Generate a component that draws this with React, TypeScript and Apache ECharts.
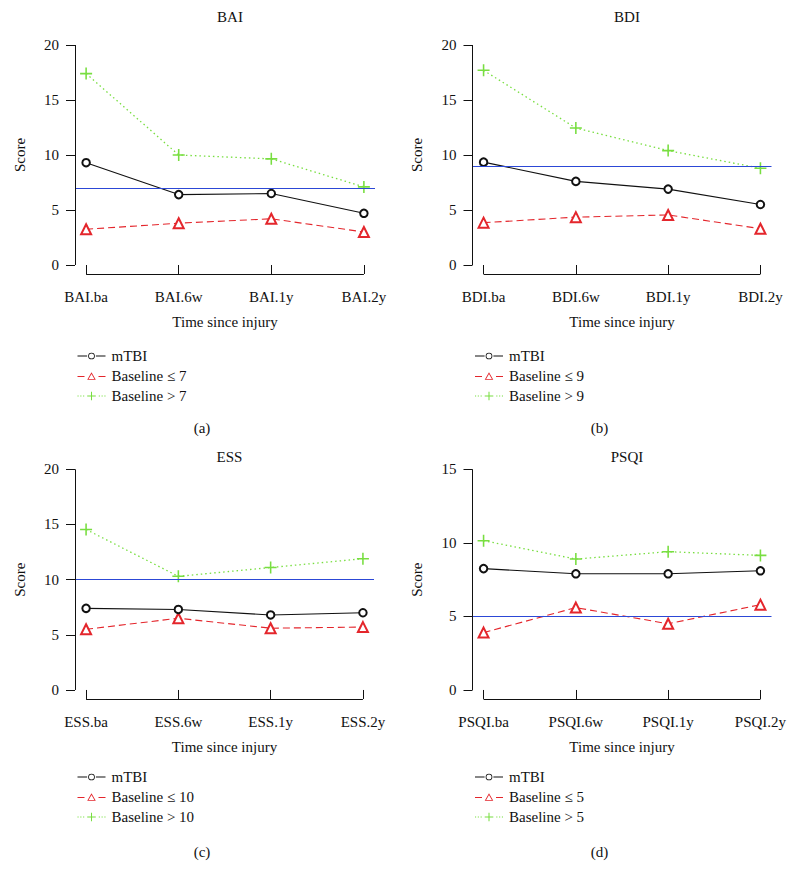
import React, { useEffect, useRef } from 'react';
import * as echarts from 'echarts';

// ---- Data ----
const baiCategories = ['BAI.ba', 'BAI.6w', 'BAI.1y', 'BAI.2y'];
const bdiCategories = ['BDI.ba', 'BDI.6w', 'BDI.1y', 'BDI.2y'];
const essCategories = ['ESS.ba', 'ESS.6w', 'ESS.1y', 'ESS.2y'];
const psqiCategories = ['PSQI.ba', 'PSQI.6w', 'PSQI.1y', 'PSQI.2y'];

const baiMtbi = [9.3, 6.4, 6.5, 4.7];
const baiLow = [3.25, 3.8, 4.2, 3.0];
const baiHigh = [17.4, 10.0, 9.65, 7.1];
const baiCut = 7;

const bdiMtbi = [9.35, 7.6, 6.9, 5.5];
const bdiLow = [3.85, 4.35, 4.55, 3.3];
const bdiHigh = [17.7, 12.45, 10.4, 8.8];
const bdiCut = 9;

const essMtbi = [7.4, 7.3, 6.8, 7.0];
const essLow = [5.5, 6.5, 5.6, 5.7];
const essHigh = [14.55, 10.3, 11.1, 11.9];
const essCut = 10;

const psqiMtbi = [8.25, 7.9, 7.9, 8.1];
const psqiLow = [3.9, 5.6, 4.5, 5.8];
const psqiHigh = [10.15, 8.9, 9.4, 9.15];
const psqiCut = 5;

const yTicks20 = [0, 5, 10, 15, 20];
const yTicks15 = [0, 5, 10, 15];
const xTicks = [1, 2, 3, 4];

const titles = ['BAI', 'BDI', 'ESS', 'PSQI'];
const panelLabels = ['(a)', '(b)', '(c)', '(d)'];
const xAxisTitle = 'Time since injury';
const yAxisTitle = 'Score';

// ---- Styles ----
const FONT = 'Liberation Serif';
const BLACK = '#111111';
const RED = '#E4262C';
const GREEN = '#78DE40';
const BLUE = '#2C48D6';
const PLUS = 'path://M4.35,0H5.65V4.35H10V5.65H5.65V10H4.35V5.65H0V4.35H4.35Z';

// legend icons (line segments + marker, like R's legend)
const ICON_MTBI =
  'path://M0,3.15H10.3V4.05H0Z M19.7,3.15H30V4.05H19.7Z ' +
  'M11.4,3.6A3.6,3.6 0 1,0 18.6,3.6A3.6,3.6 0 1,0 11.4,3.6Z ' +
  'M12.3,3.6A2.7,2.7 0 1,1 17.7,3.6A2.7,2.7 0 1,1 12.3,3.6Z';
const ICON_LOW =
  'path://M0,4.0H7.5V5.0H0Z M22.5,4.0H30V5.0H22.5Z ' +
  'M15,0L19.6,8H10.4Z M15,1.9L11.95,7.1H18.05Z';
const ICON_HIGH =
  'path://M0,4H1.2V5H0Z M3,4H4.2V5H3Z M6,4H7.2V5H6Z M22.8,4H24V5H22.8Z M25.8,4H27V5H25.8Z M28.8,4H30V5H28.8Z ' +
  'M14.45,0H15.55V3.95H19.6V5.05H15.55V9H14.45V5.05H10.4V3.95H14.45Z';

const panels = [
  { cats: baiCategories, mtbi: baiMtbi, low: baiLow, high: baiHigh, cut: baiCut, ticks: yTicks20,
    left: 75, top: 36.2, width: 300, height: 237.6, legendTop: 347, labelTop: 415, titleTop: 4 },
  { cats: bdiCategories, mtbi: bdiMtbi, low: bdiLow, high: bdiHigh, cut: bdiCut, ticks: yTicks20,
    left: 472.5, top: 36.2, width: 299, height: 237.6, legendTop: 347, labelTop: 415, titleTop: 4 },
  { cats: essCategories, mtbi: essMtbi, low: essLow, high: essHigh, cut: essCut, ticks: yTicks20,
    left: 75, top: 460.5, width: 299, height: 238.3, legendTop: 768, labelTop: 839, titleTop: 444 },
  { cats: psqiCategories, mtbi: psqiMtbi, low: psqiLow, high: psqiHigh, cut: psqiCut, ticks: yTicks15,
    left: 472.5, top: 460.5, width: 299, height: 238.3, legendTop: 768, labelTop: 839, titleTop: 444 },
];

const textBase = { fontFamily: FONT, fontSize: 15, color: BLACK, fontWeight: 'normal' as const };

function buildOption() {
  const grid: any[] = [];
  const xAxis: any[] = [];
  const yAxis: any[] = [];
  const series: any[] = [];
  const legend: any[] = [];
  const title: any[] = [];

  panels.forEach((p, i) => {
    const yMaxTick = p.ticks[p.ticks.length - 1];
    const yPad = yMaxTick * 0.04;
    const yMin = -yPad;
    const yMax = yMaxTick + yPad;
    const xMin = 1 - 0.12;
    const xMax = 4 + 0.12;
    const lowName = `Baseline ≤ ${p.cut}`;
    const highName = `Baseline > ${p.cut}`;

    grid.push({ left: p.left, top: p.top, width: p.width, height: p.height, containLabel: false });

    xAxis.push({
      type: 'value', gridIndex: i, min: xMin, max: xMax,
      name: xAxisTitle, nameLocation: 'middle', nameGap: 41,
      nameTextStyle: { ...textBase },
      axisLine: { show: false },
      axisTick: { show: true, customValues: xTicks, length: 9, lineStyle: { color: BLACK, width: 1 } },
      axisLabel: { customValues: xTicks, margin: 16, ...textBase,
        formatter: (v: number) => p.cats[Math.round(v) - 1] ?? '' },
      splitLine: { show: false },
    });

    yAxis.push({
      type: 'value', gridIndex: i, min: yMin, max: yMax,
      name: yAxisTitle, nameLocation: 'middle', nameGap: 48, nameRotate: 90,
      nameTextStyle: { ...textBase },
      axisLine: { show: false },
      axisTick: { show: true, customValues: p.ticks, length: 9, lineStyle: { color: BLACK, width: 1 } },
      axisLabel: { customValues: p.ticks, margin: 16, ...textBase },
      splitLine: { show: false },
    });

    const axisLine = { color: BLACK, width: 1, type: 'solid' };

    series.push({
      type: 'line', name: 'mTBI', xAxisIndex: i, yAxisIndex: i, clip: false,
      data: p.mtbi.map((v, k) => [xTicks[k], v]),
      symbol: 'emptyCircle', symbolSize: 7.5,
      itemStyle: { color: BLACK, borderColor: BLACK, borderWidth: 1 },
      lineStyle: { color: BLACK, width: 1.1, type: 'solid' },
      z: 4,
      markLine: {
        silent: true, symbol: ['none', 'none'], label: { show: false }, animation: false,
        emphasis: { disabled: true },
        data: [
          { yAxis: p.cut, lineStyle: { color: BLUE, width: 1.2, type: 'solid' } },
          [{ coord: [xTicks[0], yMin], lineStyle: axisLine }, { coord: [xTicks[3], yMin] }],
          [{ coord: [xMin, p.ticks[0]], lineStyle: axisLine }, { coord: [xMin, yMaxTick] }],
        ],
      },
    });
    series.push({
      type: 'line', name: lowName, xAxisIndex: i, yAxisIndex: i, clip: false,
      data: p.low.map((v, k) => [xTicks[k], v]),
      symbol: 'emptyTriangle', symbolSize: 10,
      itemStyle: { color: RED, borderColor: RED, borderWidth: 1 },
      lineStyle: { color: RED, width: 1.1, type: [7, 4] },
      z: 3,
    });
    series.push({
      type: 'line', name: highName, xAxisIndex: i, yAxisIndex: i, clip: false,
      data: p.high.map((v, k) => [xTicks[k], v]),
      symbol: PLUS, symbolSize: 12,
      itemStyle: { color: GREEN },
      lineStyle: { color: GREEN, width: 1.3, type: [1.5, 3] },
      z: 3,
    });

    legend.push({
      orient: 'vertical', left: p.left - 2.5, top: p.legendTop - 4,
      data: [
        { name: 'mTBI', icon: ICON_MTBI, itemStyle: { color: BLACK, borderWidth: 0 } },
        { name: lowName, icon: ICON_LOW, itemStyle: { color: RED, borderWidth: 0 } },
        { name: highName, icon: ICON_HIGH, itemStyle: { color: GREEN, borderWidth: 0 } },
      ],
      itemWidth: 28, itemHeight: 9, itemGap: 4,
      symbolKeepAspect: true,
      selectedMode: false,
      textStyle: { ...textBase, lineHeight: 16, padding: [0, 0, 0, 1] },
    });

    const cx = p.left + p.width / 2;
    title.push({
      text: titles[i], left: cx, top: p.titleTop, textAlign: 'center',
      textStyle: { ...textBase },
    });
    title.push({
      text: panelLabels[i], left: p.left + 122, top: p.labelTop, textAlign: 'center',
      textStyle: { ...textBase },
    });
  });

  return {
    animation: false,
    backgroundColor: '#ffffff',
    textStyle: { fontFamily: FONT },
    grid, xAxis, yAxis, series, legend, title,
  };
}

export default function App() {
  const ref = useRef<HTMLDivElement>(null);
  useEffect(() => {
    document.body.style.margin = '0';
    if (!ref.current) return;
    const chart = echarts.init(ref.current, undefined, { renderer: 'svg' });
    chart.setOption(buildOption() as any);
    return () => chart.dispose();
  }, []);
  return <div ref={ref} style={{ width: 797, height: 885 }} />;
}
